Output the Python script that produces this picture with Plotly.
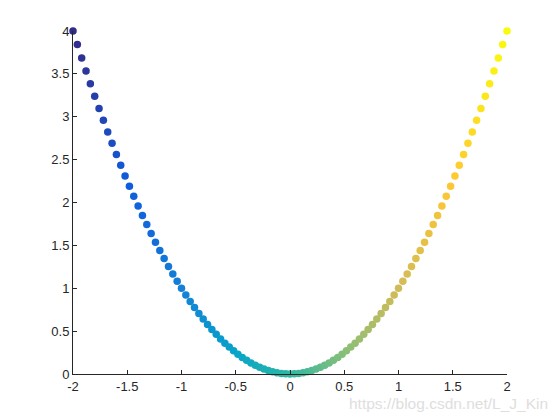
import plotly.graph_objects as go

# sample points (x step 0.04, y = x squared)
x_vals = [-2.00, -1.96, -1.92, -1.88, -1.84, -1.80, -1.76, -1.72, -1.68, -1.64,
          -1.60, -1.56, -1.52, -1.48, -1.44, -1.40, -1.36, -1.32, -1.28, -1.24,
          -1.20, -1.16, -1.12, -1.08, -1.04, -1.00, -0.96, -0.92, -0.88, -0.84,
          -0.80, -0.76, -0.72, -0.68, -0.64, -0.60, -0.56, -0.52, -0.48, -0.44,
          -0.40, -0.36, -0.32, -0.28, -0.24, -0.20, -0.16, -0.12, -0.08, -0.04,
          0.00, 0.04, 0.08, 0.12, 0.16, 0.20, 0.24, 0.28, 0.32, 0.36,
          0.40, 0.44, 0.48, 0.52, 0.56, 0.60, 0.64, 0.68, 0.72, 0.76,
          0.80, 0.84, 0.88, 0.92, 0.96, 1.00, 1.04, 1.08, 1.12, 1.16,
          1.20, 1.24, 1.28, 1.32, 1.36, 1.40, 1.44, 1.48, 1.52, 1.56,
          1.60, 1.64, 1.68, 1.72, 1.76, 1.80, 1.84, 1.88, 1.92, 1.96, 2.00]

y_vals = [4.0000, 3.8416, 3.6864, 3.5344, 3.3856, 3.2400, 3.0976, 2.9584, 2.8224, 2.6896,
          2.5600, 2.4336, 2.3104, 2.1904, 2.0736, 1.9600, 1.8496, 1.7424, 1.6384, 1.5376,
          1.4400, 1.3456, 1.2544, 1.1664, 1.0816, 1.0000, 0.9216, 0.8464, 0.7744, 0.7056,
          0.6400, 0.5776, 0.5184, 0.4624, 0.4096, 0.3600, 0.3136, 0.2704, 0.2304, 0.1936,
          0.1600, 0.1296, 0.1024, 0.0784, 0.0576, 0.0400, 0.0256, 0.0144, 0.0064, 0.0016,
          0.0000, 0.0016, 0.0064, 0.0144, 0.0256, 0.0400, 0.0576, 0.0784, 0.1024, 0.1296,
          0.1600, 0.1936, 0.2304, 0.2704, 0.3136, 0.3600, 0.4096, 0.4624, 0.5184, 0.5776,
          0.6400, 0.7056, 0.7744, 0.8464, 0.9216, 1.0000, 1.0816, 1.1664, 1.2544, 1.3456,
          1.4400, 1.5376, 1.6384, 1.7424, 1.8496, 1.9600, 2.0736, 2.1904, 2.3104, 2.4336,
          2.5600, 2.6896, 2.8224, 2.9584, 3.0976, 3.2400, 3.3856, 3.5344, 3.6864, 3.8416, 4.0000]

x_ticks = [-2, -1.5, -1, -0.5, 0, 0.5, 1, 1.5, 2]
y_ticks = [0, 0.5, 1, 1.5, 2, 2.5, 3, 3.5, 4]

# MATLAB parula, roughly
PARULA = [
    [0.000, '#352a87'], [0.125, '#0f5cdd'], [0.250, '#1481d6'],
    [0.375, '#06a4ca'], [0.500, '#2eb7a4'], [0.625, '#87bf77'],
    [0.750, '#d1bb59'], [0.875, '#fec832'], [1.000, '#f9fb0e'],
]
AXIS_COLOR = '#262626'

fig = go.Figure(go.Scatter(
    x=x_vals, y=y_vals, mode='markers', cliponaxis=False,
    marker=dict(size=7.5, color=x_vals, colorscale=PARULA, cmin=-2, cmax=2,
                line=dict(width=0)),
    showlegend=False,
))

axis_style = dict(showline=True, linecolor=AXIS_COLOR, linewidth=1, mirror=False,
                  showgrid=False, zeroline=False, ticks='inside', ticklen=4,
                  tickcolor=AXIS_COLOR, tickfont=dict(family='Liberation Sans', size=13,
                                                      color=AXIS_COLOR))

fig.update_xaxes(range=[-2, 2], tickvals=x_ticks, ticktext=[f'{t:g}' for t in x_ticks],
                 **axis_style)
fig.update_yaxes(range=[0, 4], tickvals=y_ticks, ticktext=[f'{t:g}' for t in y_ticks],
                 **axis_style)

fig.add_annotation(text='https://blog.csdn.net/L_J_Kin', xref='paper', yref='paper',
                   x=1.099, y=-0.085, xanchor='right', yanchor='middle', showarrow=False,
                   font=dict(family='Liberation Sans', size=15.5, color='#dedede'))

# the page body adds an 8px offset, so margins are shifted to compensate
fig.update_layout(width=560, height=420, margin=dict(l=65, r=61, t=23, b=54),
                  plot_bgcolor='white', paper_bgcolor='white')

fig.write_html('out.html')
